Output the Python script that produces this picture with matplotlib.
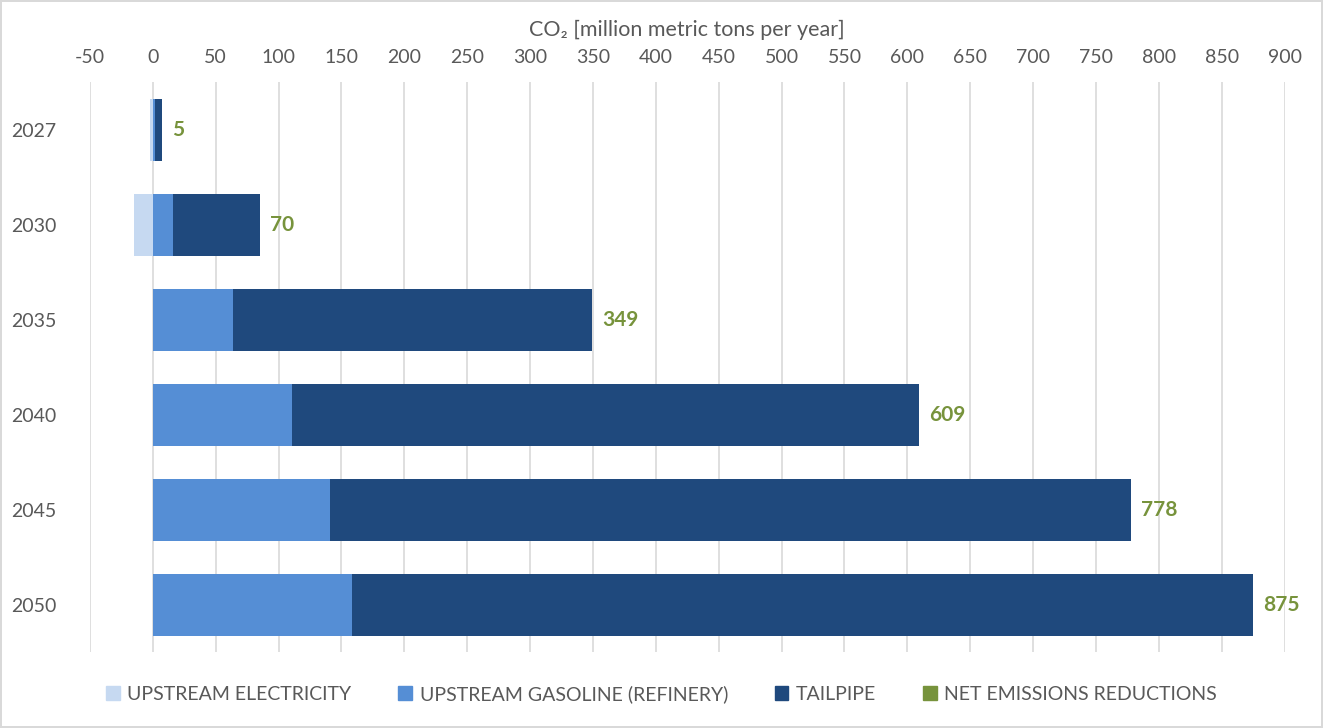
import matplotlib
matplotlib.use("Agg")
import matplotlib.pyplot as plt
from matplotlib.patches import Patch

years = ["2027", "2030", "2035", "2040", "2045", "2050"]
upstream_electricity = [-2, -15, 0, 0, 0, 0]
upstream_gasoline = [2, 16, 64, 111, 141, 158]
tailpipe = [5, 69, 285, 498, 637, 717]
net_reductions = [5, 70, 349, 609, 778, 875]

c_elec = "#C6D9F1"
c_gas = "#558ED5"
c_tail = "#1F497D"
c_net = "#77933C"
txt = "#595959"

plt.rcParams['font.family'] = ['Lato', 'DejaVu Sans']
plt.rcParams['axes.unicode_minus'] = False

fig = plt.figure(figsize=(13.23, 7.28), dpi=100)
ax = fig.add_axes([0.068, 0.104, 0.903, 0.783])

y = list(range(len(years)))
h = 0.65
ax.barh(y, upstream_electricity, height=h, color=c_elec, zorder=3)
ax.barh(y, upstream_gasoline, height=h, color=c_gas, zorder=3)
ax.barh(y, tailpipe, left=upstream_gasoline, height=h, color=c_tail, zorder=3)

for i, v in enumerate(net_reductions):
    end = upstream_gasoline[i] + tailpipe[i]
    ax.text(end + 8, i, f"{v}", va="center", ha="left", color=c_net,
            fontsize=15, fontweight="bold")

ax.set_xlim(-50, 900)
ax.set_ylim(len(years) - 0.5, -0.5)
ax.set_xticks(range(-50, 901, 50))
ax.xaxis.tick_top()
ax.xaxis.set_label_position("top")
ax.set_xlabel("CO₂ [million metric tons per year]", fontsize=15.5, color=txt, labelpad=9)
ax.set_yticks(y)
ax.set_yticklabels(years)
ax.tick_params(axis="both", length=0, labelsize=14, colors=txt)
ax.tick_params(axis="x", pad=12)
ax.tick_params(axis="y", pad=24)
ax.grid(axis="x", color="#D9D9D9", linewidth=1.2, zorder=0)
for s in ax.spines.values():
    s.set_visible(False)

handles = [Patch(color=c_elec), Patch(color=c_gas), Patch(color=c_tail), Patch(color=c_net)]
labels = ["UPSTREAM ELECTRICITY", "UPSTREAM GASOLINE (REFINERY)", "TAILPIPE", "NET EMISSIONS REDUCTIONS"]
leg = fig.legend(handles, labels, loc="center", bbox_to_anchor=(0.5, 0.047), ncol=4,
                 frameon=False, fontsize=14, handlelength=0.7, handleheight=0.7,
                 handletextpad=0.4, columnspacing=2.4)
for t in leg.get_texts():
    t.set_color(txt)

fig.patch.set_edgecolor("#D9D9D9")
fig.patch.set_linewidth(1.5)

fig.savefig("out.png", dpi=100, edgecolor=fig.get_edgecolor())
